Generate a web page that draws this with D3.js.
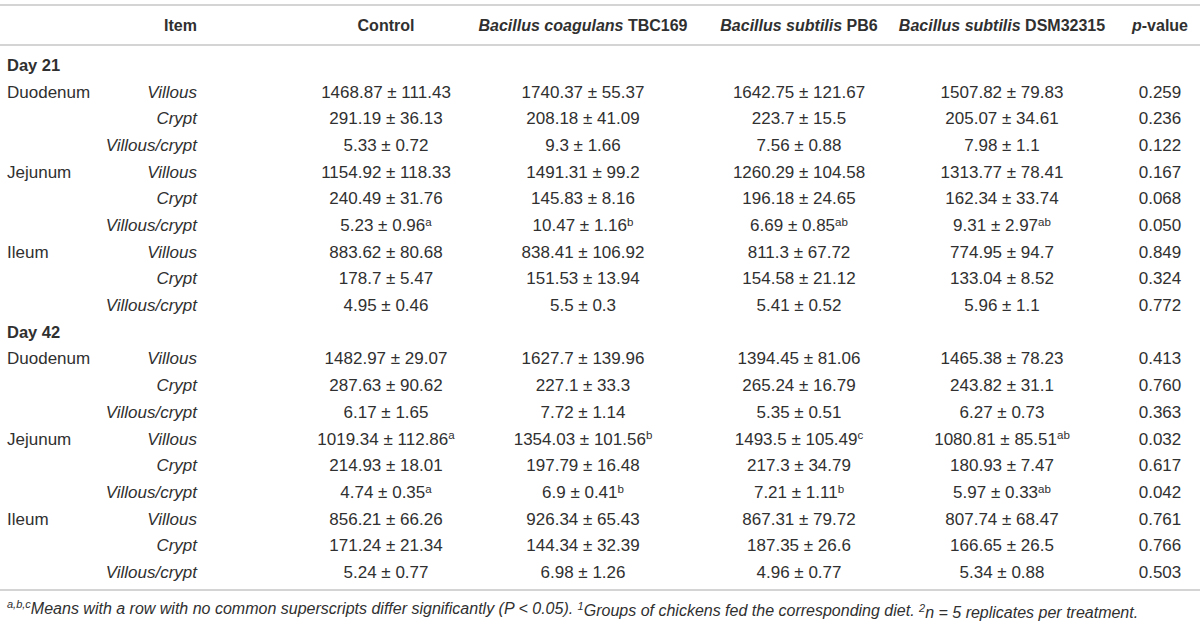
<!DOCTYPE html>
<html>
<head>
  <meta charset="utf-8" />
  <title>Intestinal morphology table</title>
  <script src="https://d3js.org/d3.v7.min.js"></script>
  <style>
    body {
      margin: 0;
      background: #fff;
      font-family: "Liberation Sans", Arial, sans-serif;
    }
    text {
      fill: #303030;
    }
  </style>
</head>
<body>
  <div id="table"></div>

  <script>
// column headers: [italic part, plain part]
var headers = [
  ["", "Control"],
  ["Bacillus coagulans", " TBC169"],
  ["Bacillus subtilis", " PB6"],
  ["Bacillus subtilis", " DSM32315"]
];
var days = ["Day 21", "Day 42"];
var segments = ["Duodenum", "Jejunum", "Ileum"];
var items = ["Villous", "Crypt", "Villous/crypt"];

// mean ± sd per row, "^" marks a superscript
var control = [
  "1468.87 ± 111.43", "291.19 ± 36.13", "5.33 ± 0.72",
  "1154.92 ± 118.33", "240.49 ± 31.76", "5.23 ± 0.96^a",
  "883.62 ± 80.68", "178.7 ± 5.47", "4.95 ± 0.46",
  "1482.97 ± 29.07", "287.63 ± 90.62", "6.17 ± 1.65",
  "1019.34 ± 112.86^a", "214.93 ± 18.01", "4.74 ± 0.35^a",
  "856.21 ± 66.26", "171.24 ± 21.34", "5.24 ± 0.77"
];
var coagulans = [
  "1740.37 ± 55.37", "208.18 ± 41.09", "9.3 ± 1.66",
  "1491.31 ± 99.2", "145.83 ± 8.16", "10.47 ± 1.16^b",
  "838.41 ± 106.92", "151.53 ± 13.94", "5.5 ± 0.3",
  "1627.7 ± 139.96", "227.1 ± 33.3", "7.72 ± 1.14",
  "1354.03 ± 101.56^b", "197.79 ± 16.48", "6.9 ± 0.41^b",
  "926.34 ± 65.43", "144.34 ± 32.39", "6.98 ± 1.26"
];
var pb6 = [
  "1642.75 ± 121.67", "223.7 ± 15.5", "7.56 ± 0.88",
  "1260.29 ± 104.58", "196.18 ± 24.65", "6.69 ± 0.85^ab",
  "811.3 ± 67.72", "154.58 ± 21.12", "5.41 ± 0.52",
  "1394.45 ± 81.06", "265.24 ± 16.79", "5.35 ± 0.51",
  "1493.5 ± 105.49^c", "217.3 ± 34.79", "7.21 ± 1.11^b",
  "867.31 ± 79.72", "187.35 ± 26.6", "4.96 ± 0.77"
];
var dsm = [
  "1507.82 ± 79.83", "205.07 ± 34.61", "7.98 ± 1.1",
  "1313.77 ± 78.41", "162.34 ± 33.74", "9.31 ± 2.97^ab",
  "774.95 ± 94.7", "133.04 ± 8.52", "5.96 ± 1.1",
  "1465.38 ± 78.23", "243.82 ± 31.1", "6.27 ± 0.73",
  "1080.81 ± 85.51^ab", "180.93 ± 7.47", "5.97 ± 0.33^ab",
  "807.74 ± 68.47", "166.65 ± 26.5", "5.34 ± 0.88"
];
var pValues = [
  "0.259", "0.236", "0.122", "0.167", "0.068", "0.050", "0.849", "0.324", "0.772",
  "0.413", "0.760", "0.363", "0.032", "0.617", "0.042", "0.761", "0.766", "0.503"
];

var width = 1200, height = 625;

// build the row list: day header then 9 data rows
var rows = [];
days.forEach(function (day, d) {
  rows.push({ key: day, type: "day", label: day });
  segments.forEach(function (seg, s) {
    items.forEach(function (item, i) {
      var k = d * 9 + s * 3 + i;
      rows.push({
        key: day + seg + item, type: "data", segment: i === 0 ? seg : "", item: item,
        cells: [control[k], coagulans[k], pb6[k], dsm[k]], p: pValues[k]
      });
    });
  });
});

var y = d3.scalePoint()
  .domain(rows.map(function (r) { return r.key; }))
  .range([65, 572]);

var colKeys = ["control", "coagulans", "pb6", "dsm", "p"];
var x = d3.scaleOrdinal()
  .domain(colKeys)
  .range([386, 583, 799, 1002, 1160]);

var svg = d3.select("#table").append("svg")
  .attr("width", width)
  .attr("height", height)
  .style("font-size", "17px");

// rules
var rules = [5, 45, 590];
svg.append("g").selectAll("line")
  .data(rules)
  .join("line")
  .attr("x1", 0).attr("x2", width)
  .attr("y1", function (d) { return d; }).attr("y2", function (d) { return d; })
  .attr("stroke", "#d4d4d4")
  .attr("stroke-width", 2);

// header
var head = svg.append("g").style("font-weight", "bold").style("font-size", "16px");
head.append("text")
  .attr("x", 197).attr("y", 25).attr("dy", "0.35em")
  .attr("text-anchor", "end")
  .text("Item");

head.selectAll("text.col")
  .data(headers)
  .join("text")
  .attr("class", "col")
  .attr("x", function (d, i) { return x(colKeys[i]); })
  .attr("y", 25).attr("dy", "0.35em")
  .attr("text-anchor", "middle")
  .each(function (d) {
    var t = d3.select(this);
    if (d[0]) t.append("tspan").style("font-style", "italic").text(d[0]);
    t.append("tspan").text(d[1]);
  });

var pHead = head.append("text")
  .attr("x", x("p")).attr("y", 25).attr("dy", "0.35em")
  .attr("text-anchor", "middle");
pHead.append("tspan").style("font-style", "italic").text("p");
pHead.append("tspan").text("-value");

// body
function writeValue(sel, str) {
  var parts = str.split("^");
  sel.append("tspan").text(parts[0]);
  if (parts[1]) {
    sel.append("tspan")
      .attr("dy", "-0.45em")
      .style("font-size", "0.68em")
      .text(parts[1]);
  }
}

var rowG = svg.append("g").selectAll("g")
  .data(rows)
  .join("g")
  .attr("transform", function (r) { return "translate(0," + y(r.key) + ")"; });

rowG.filter(function (r) { return r.type === "day"; })
  .append("text")
  .attr("x", 7).attr("dy", "0.35em")
  .style("font-weight", "bold")
  .style("font-size", "16.5px")
  .text(function (r) { return r.label; });

var dataRows = rowG.filter(function (r) { return r.type === "data"; });

dataRows.append("text")
  .attr("x", 7).attr("dy", "0.35em")
  .text(function (r) { return r.segment; });

dataRows.append("text")
  .attr("x", 197).attr("dy", "0.35em")
  .attr("text-anchor", "end")
  .style("font-style", "italic")
  .text(function (r) { return r.item; });

dataRows.selectAll("text.val")
  .data(function (r) { return r.cells; })
  .join("text")
  .attr("class", "val")
  .attr("x", function (d, i) { return x(colKeys[i]); })
  .attr("dy", "0.35em")
  .attr("text-anchor", "middle")
  .each(function (d) { writeValue(d3.select(this), d); });

dataRows.append("text")
  .attr("x", x("p")).attr("dy", "0.35em")
  .attr("text-anchor", "middle")
  .text(function (r) { return r.p; });

// footnote
var foot = svg.append("text")
  .attr("x", 7).attr("y", 612).attr("dy", "0.35em")
  .style("font-style", "italic")
  .style("font-size", "16px");
var footParts = [
  ["a,b,c", true], ["Means with a row with no common superscripts differ significantly (P < 0.05). ", false],
  ["1", true], ["Groups of chickens fed the corresponding diet. ", false],
  ["2", true], ["n = 5 replicates per treatment.", false]
];
var prevSup = false;
footParts.forEach(function (p) {
  var t = foot.append("tspan").text(p[0]);
  if (p[1]) {
    t.attr("dy", "-0.4em").style("font-size", "11px");
    prevSup = true;
  } else if (prevSup) {
    t.attr("dy", "0.4em");
    prevSup = false;
  }
});
  </script>
</body>
</html>
